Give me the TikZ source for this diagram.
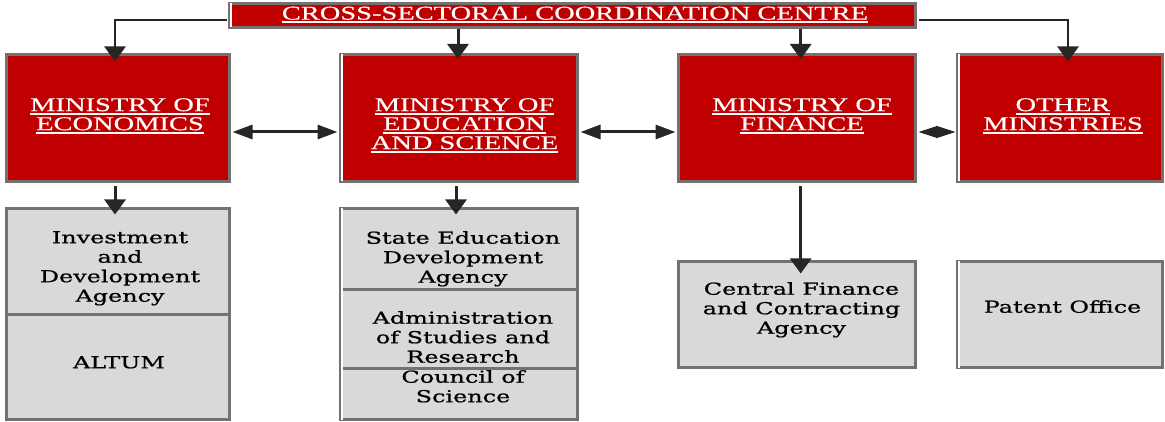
\documentclass[tikz,border=0pt]{standalone}
\usepackage{fontspec}
\usetikzlibrary{arrows.meta,calc}
\setmainfont{Liberation Serif}
\newfontfamily\redfont[FakeStretch=1.46,FakeBold=0.4]{Liberation Serif}
\newfontfamily\grayfont[FakeStretch=1.45,FakeBold=0.9]{DejaVu Serif}
\definecolor{boxred}{HTML}{C00000}
\definecolor{boxedge}{HTML}{767171}
\definecolor{boxgray}{HTML}{D9D9D9}
\definecolor{arrowdark}{HTML}{262626}
% white underline drawn below a line of heading text
\newcommand\uw[1]{\setbox0=\hbox{#1}\rlap{\rule[-3.6pt]{\wd0}{1.9pt}}\box0}
\tikzset{
  redbox/.style={draw=boxedge, line width=3pt, fill=boxred, inner sep=0pt},
  graybox/.style={draw=boxedge, line width=3pt, fill=boxgray, inner sep=0pt},
  redlabel/.style={text=white, align=center, inner sep=0pt, anchor=north,
    font={\redfont\fontsize{19.5}{19}\selectfont}},
  graylabel/.style={text=black, align=center, inner sep=0pt, anchor=north,
    font={\grayfont\fontsize{16.5}{19.5}\selectfont}},
  stripe/.style={draw=white, line width=2pt},
  varr/.style={draw=arrowdark, line width=3pt, -{Triangle[width=21pt,length=15pt]}},
  elbow/.style={draw=arrowdark, line width=2.5pt, -{Triangle[width=21pt,length=15pt]}},
  harr/.style={draw=arrowdark, line width=3pt,
    {Triangle[width=14pt,length=20pt]}-{Triangle[width=14pt,length=20pt]}},
  diam/.style={draw=arrowdark, line width=1pt,
    {Triangle[width=12pt,length=19pt]}-{Triangle[width=12pt,length=19pt]}},
}
\begin{document}
\begin{tikzpicture}[x=1pt,y=-1pt]
\useasboundingbox (0,0) rectangle (1165,422);

% ---- coordination centre and ministries ----
\node[redbox, minimum width=686pt, minimum height=24pt] (top) at (572.5,15.5) {};
\node[redbox, minimum width=223pt, minimum height=127pt] (econ) at (118,118) {};
\node[redbox, minimum width=237pt, minimum height=127pt] (edu) at (459,118) {};
\node[redbox, minimum width=237pt, minimum height=127pt] (fin) at (797,118) {};
\node[redbox, minimum width=205pt, minimum height=127pt] (oth) at (1060,118) {};

% ---- subordinate agencies ----
\node[graybox, minimum width=223pt, minimum height=105.5pt] (inv) at (118,261.25) {};
\node[graybox, minimum width=223pt, minimum height=105.5pt] (alt) at (118,366.75) {};
\node[graybox, minimum width=237pt, minimum height=80.5pt] (sed) at (459,248.75) {};
\node[graybox, minimum width=237pt, minimum height=79pt] (asr) at (459,328.5) {};
\node[graybox, minimum width=237pt, minimum height=51.5pt] (cos) at (459,393.75) {};
\node[graybox, minimum width=237pt, minimum height=106pt] (cfc) at (797,314.5) {};
\node[graybox, minimum width=205pt, minimum height=106pt] (pat) at (1060,314.5) {};

% thin white strips inside some left borders
\foreach \b in {top,edu,oth,sed,asr,cos,pat}
  \draw[stripe] ($(\b.north west)+(3,1.5)$) -- ($(\b.south west)+(3,-1.5)$);

% ---- labels ----
\node[redlabel] (topT) at (575,6.5) {\uw{CROSS-SECTORAL COORDINATION CENTRE}};
\node[redlabel] (econT) at (120,98) {\uw{MINISTRY OF}\\\uw{ECONOMICS}};
\node[redlabel] (eduT) at (464.5,98) {\uw{MINISTRY OF}\\\uw{EDUCATION}\\\uw{AND SCIENCE}};
\node[redlabel] (finT) at (802,98) {\uw{MINISTRY OF}\\\uw{FINANCE}};
\node[redlabel] (othT) at (1063,98) {\uw{OTHER}\\\uw{MINISTRIES}};

\node[graylabel] (invT) at (120,231) {Investment\\and\\Development\\Agency};
\node[graylabel] (altT) at (119,356) {ALTUM};
\node[graylabel] (sedT) at (463,231) {State Education\\Development\\Agency};
\node[graylabel] (asrT) at (463,311) {Administration\\of Studies and\\Research};
\node[graylabel] (cosT) at (463,370) {Council of\\Science};
\node[graylabel] (cfcT) at (801.5,282) {Central Finance\\and Contracting\\Agency};
\node[graylabel] (patT) at (1062.5,300) {Patent Office};

% ---- connectors from the centre ----
\draw[elbow] ($(top.west)+(-1.5,4.5)$) -| ($(econ.north)+(-3,8.5)$);
\draw[elbow] ($(top.east)+(1.5,4.5)$) -| ($(oth.north)+(8,8.5)$);
\draw[varr] (top.south -| edu.north) ++(-1,0) -- ($(edu.north)+(-1,6)$);
\draw[varr] (top.south -| fin.north) ++(3.7,0) -- ($(fin.north)+(3.7,6)$);

% ---- links between ministries ----
\draw[harr] ($(econ.east)+(1.5,14)$) -- ($(edu.west)+(-1.5,14)$);
\draw[harr] ($(edu.east)+(1.5,14)$) -- ($(fin.west)+(-1.5,14)$);
\draw[diam] ($(fin.east)+(1.5,14)$) -- ($(oth.west)+(-0.5,14)$);

% ---- ministries to agencies ----
\draw[varr] ($(econ.south)+(-3,3.5)$) -- ($(inv.north)+(-3,7.5)$);
\draw[varr] ($(edu.south)+(-3,3.5)$) -- ($(sed.north)+(-3,7.5)$);
\draw[varr] ($(fin.south)+(3.7,3.5)$) -- ($(cfc.north)+(3.7,13.5)$);
\end{tikzpicture}
\end{document}
